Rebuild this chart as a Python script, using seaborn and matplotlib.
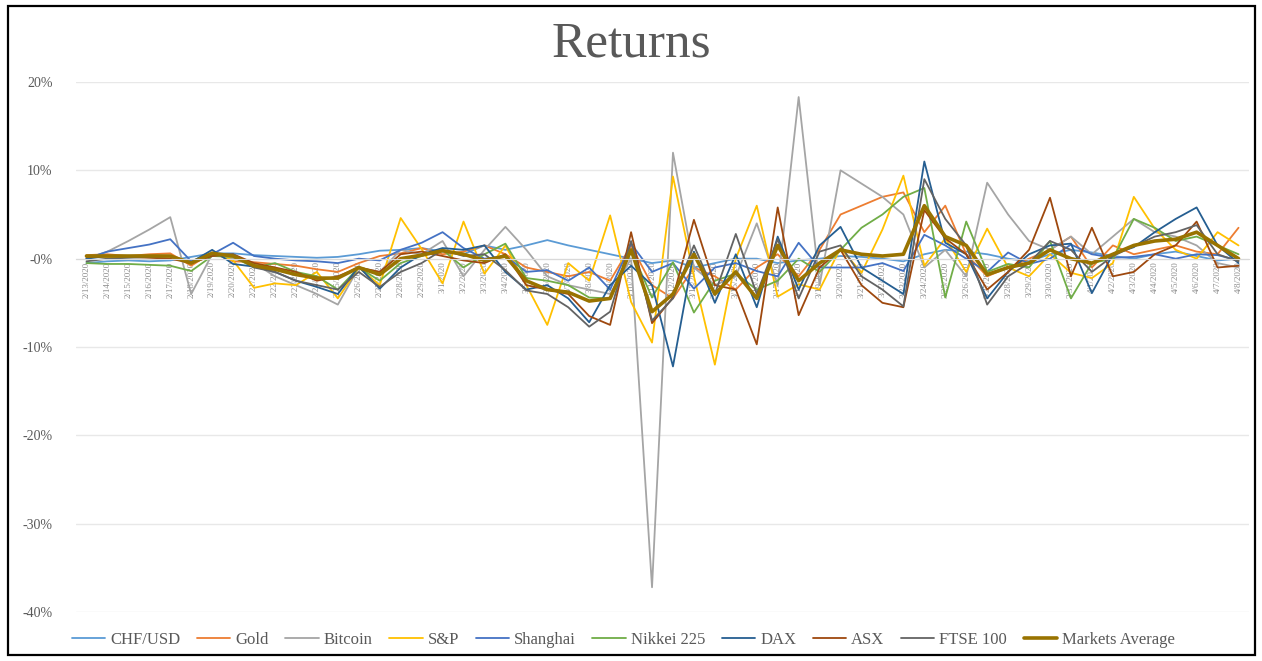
import matplotlib
matplotlib.use("Agg")
import matplotlib.pyplot as plt
from matplotlib.lines import Line2D
from matplotlib.patches import Rectangle
from matplotlib.ticker import PercentFormatter
import numpy as np
import pandas as pd
import seaborn as sns

# daily returns in %
dates = [d.strftime("%-m/%-d/%Y") for d in pd.date_range("2020-02-13", periods=56, freq="D")]

chf_usd = [-0.5, -0.3, -0.2, -0.3, -0.2, 0.2, 0.6, 0.6, 0.4, 0.3, 0.2, 0.1, 0.2, 0.5, 0.9, 1.0,
           1.2, 0.8, 0.5, 1.5, 1.0, 1.5, 2.1, 1.5, 1.0, 0.5, 0.0, -0.5, -0.2, -1.0, -0.5, 0.0,
           0.0, -0.5, -0.2, 0.0, 0.3, 0.2, 0.0, -0.3, 0.5, 1.0, 0.8, 0.5, 0.0, -0.3, 0.5, 1.0,
           0.7, 0.3, 0.0, 0.5, 0.8, 0.3, -0.2, 0.0]
gold = [0.4, 0.5, 0.3, 0.5, 0.6, -0.8, 0.7, -0.3, -0.4, -0.6, -0.8, -1.2, -1.5, -0.5, 0.3, 0.6,
        1.2, 0.5, 0.8, 1.5, 0.5, -1.0, -1.5, -2.0, -1.5, -2.5, 1.5, -3.0, -4.5, -1.0, -2.0, -3.5,
        -1.0, 0.5, -2.0, 1.0, 5.0, 6.0, 7.0, 7.5, 3.0, 6.0, 0.5, -2.0, -1.0, 0.0, 1.0, 2.5,
        -1.0, 1.5, 0.5, 1.0, 1.5, 0.8, 0.5, 3.5]
bitcoin = [0.0, 0.8, 2.0, 3.3, 4.7, -4.0, 0.5, 0.0, -0.5, -2.0, -3.0, -4.0, -5.2, -1.0, -1.5, 1.0,
           0.5, 2.0, -2.0, 1.0, 3.6, 1.0, -2.0, -3.0, -3.5, -4.0, 0.0, -37.2, 12.0, -1.0, -3.0, -2.0,
           4.0, -3.0, 18.3, -3.0, 10.0, 8.5, 7.0, 5.0, -1.0, 1.0, -2.0, 8.6, 5.0, 2.0, 1.0, 2.5,
           0.5, 2.5, 4.5, 3.0, 2.5, 1.5, -0.5, -1.0]
sp = [0.3, 0.2, 0.2, 0.3, 0.2, -0.3, 0.7, -0.2, -3.3, -2.8, -3.0, -1.5, -4.5, -1.0, -3.0, 4.6,
      1.1, -2.8, 4.2, -1.7, 1.5, -3.0, -7.5, -0.5, -2.5, 4.9, -4.9, -9.5, 9.3, -2.0, -12.0, 0.0,
      6.0, -4.3, -2.9, -3.5, 1.2, -1.6, 3.3, 9.4, -0.8, 2.3, -1.5, 3.4, -1.0, -2.0, 0.5, -1.6,
      -2.2, -0.5, 7.0, 3.4, 1.0, 0.0, 3.0, 1.5]
shanghai = [0.0, 0.8, 1.2, 1.6, 2.2, -0.3, 0.5, 1.8, 0.3, 0.0, -0.2, -0.3, -0.5, 0.0, -0.2, 1.0,
            1.8, 3.0, 1.2, 0.0, 0.3, -1.5, -1.3, -2.5, -1.0, -3.5, 1.7, -1.5, -0.5, -3.4, -1.0, -0.5,
            -1.4, -2.0, 1.8, -1.0, -1.0, -1.0, -0.5, -1.4, 2.7, 1.5, 0.0, -1.5, 0.7, -0.6, 0.0, 1.6,
            0.5, 0.1, 0.2, 0.5, 0.0, 0.5, 0.4, -0.2]
nikkei = [-0.5, -0.6, -0.6, -0.7, -0.8, -1.4, 0.3, 0.2, -1.0, -0.5, -1.5, -2.0, -3.5, -1.0, -2.5, -0.5,
          0.3, 1.0, -1.0, 0.5, 1.7, -2.2, -2.5, -3.0, -4.4, -4.5, 1.0, -4.4, -0.4, -6.1, -2.5, -1.7,
          -3.5, -2.5, 0.0, -1.5, 1.0, 3.5, 5.0, 7.0, 8.0, -4.4, 4.2, -1.5, -0.6, -1.0, 2.0, -4.5,
          -0.5, 0.0, 4.5, 3.5, 2.0, 2.5, 1.5, 0.5]
dax = [0.0, 0.3, 0.3, 0.2, 0.3, -0.4, 1.0, -0.6, -0.9, -1.5, -2.5, -3.2, -4.0, -0.9, -3.4, -1.0,
       0.5, 1.2, 1.0, 1.5, -1.5, -3.5, -3.0, -4.5, -7.2, -3.0, -0.8, -3.0, -12.2, 0.8, -5.0, 0.5,
       -5.5, 2.5, -3.5, 1.5, 3.6, -1.0, -2.5, -4.0, 11.0, 1.8, 0.5, -4.5, -1.5, 0.5, 1.5, 1.7,
       -3.9, 0.5, 1.3, 3.0, 4.5, 5.8, 1.5, -0.5]
asx = [0.2, 0.3, 0.2, 0.1, 0.0, -0.5, 0.3, 0.5, -0.5, -1.0, -1.5, -2.5, -2.0, -1.0, -1.5, 0.5,
       0.8, 0.3, -0.2, -0.5, 0.5, -3.0, -3.5, -4.0, -6.5, -7.5, 3.0, -7.3, -4.4, 4.4, -3.0, -3.5,
       -9.7, 5.8, -6.4, -1.0, 1.0, -3.0, -5.0, -5.5, 5.5, 2.3, 0.5, -3.5, -1.5, 1.0, 6.9, -2.0,
       3.5, -2.0, -1.5, 0.5, 1.5, 4.2, -1.0, -0.8]
ftse = [-0.3, 0.0, 0.1, 0.2, 0.3, -0.5, 0.5, 0.5, -1.0, -1.5, -2.5, -3.0, -3.5, -1.5, -3.2, -1.5,
        -0.5, 1.0, 0.3, 0.5, -1.3, -3.6, -4.0, -5.5, -7.7, -6.0, 2.0, -7.0, -4.5, 1.5, -4.0, 2.8,
        -4.0, 2.2, -4.5, 0.8, 1.5, -2.0, -3.5, -5.4, 9.0, 4.5, 1.5, -5.2, -2.0, -0.5, 2.0, 1.0,
        -1.5, 0.3, 1.4, 2.5, 3.0, 3.8, 0.5, -0.3]
markets_avg = [0.3, 0.3, 0.3, 0.3, 0.3, -0.5, 0.6, 0.3, -0.8, -1.2, -1.8, -2.2, -2.2, -1.0, -1.8, 0.0,
               0.4, 0.9, 0.5, -0.2, 0.3, -2.5, -3.5, -3.8, -4.8, -4.5, 1.0, -6.0, -4.0, 0.5, -4.0, -1.5,
               -4.5, 1.5, -2.5, -0.5, 1.0, 0.5, 0.3, 0.5, 6.0, 2.5, 1.5, -1.8, -1.0, -0.5, 1.0, 0.0,
               -0.5, 0.5, 1.5, 2.0, 2.2, 3.0, 1.5, 0.0]

series_names = ["CHF/USD", "Gold", "Bitcoin", "S&P", "Shanghai", "Nikkei 225",
                "DAX", "ASX", "FTSE 100", "Markets Average"]
series_values = [chf_usd, gold, bitcoin, sp, shanghai, nikkei, dax, asx, ftse, markets_avg]

PALETTE = {
    "CHF/USD": "#5B9BD5",
    "Gold": "#ED7D31",
    "Bitcoin": "#A5A5A5",
    "S&P": "#FFC000",
    "Shanghai": "#4472C4",
    "Nikkei 225": "#70AD47",
    "DAX": "#255E91",
    "ASX": "#9E480E",
    "FTSE 100": "#636363",
    "Markets Average": "#997300",
}
WIDTHS = {name: 1.3 for name in series_names}
WIDTHS["Markets Average"] = 2.6

frames = []
for name, vals in zip(series_names, series_values):
    frames.append(pd.DataFrame({"idx": np.arange(len(vals)), "ret": np.array(vals) / 100, "series": name}))
df = pd.concat(frames, ignore_index=True)

sns.set_style("white")
plt.rcParams["font.family"] = ["Liberation Serif", "DejaVu Serif"]
plt.rcParams["axes.unicode_minus"] = False
TEXT = "#595959"

fig = plt.figure(figsize=(12.62, 6.61), dpi=100)
ax = fig.add_axes([76 / 1262, 1 - 612 / 661, 1173 / 1262, 530 / 661])

sns.lineplot(data=df, x="idx", y="ret", hue="series", hue_order=series_names,
             palette=PALETTE, size="series", sizes=WIDTHS, size_order=series_names,
             sort=False, legend=False, ax=ax)

ax.set_xlim(-0.5, len(dates) - 0.5)
ax.set_ylim(-0.40, 0.20)
ax.set_yticks(np.arange(-0.40, 0.201, 0.10))
ax.yaxis.set_major_formatter(PercentFormatter(1.0, decimals=0))
ax.grid(axis="y", color="#E8E8E8", lw=1.0)
ax.set_axisbelow(True)
for s in ["top", "right", "left"]:
    ax.spines[s].set_visible(False)
ax.spines["bottom"].set_position(("data", 0))
ax.spines["bottom"].set_color("#D9D9D9")

ax.set_xticks(np.arange(len(dates)))
ax.set_xticklabels(dates, rotation=90, fontsize=6.5, color="#8C8C8C")
ax.tick_params(axis="x", length=0, pad=2)
ax.tick_params(axis="y", length=0, pad=17, labelsize=10, labelcolor=TEXT)
ax.set_xlabel("")
ax.set_ylabel("")

fig.suptitle("Returns", y=0.968, fontsize=37, color=TEXT)

handles = [Line2D([], [], color=PALETTE[n], lw=WIDTHS[n]) for n in series_names]
fig.legend(handles, series_names, loc="center", bbox_to_anchor=(0.494, 1 - 640 / 661),
           ncol=len(series_names), frameon=False, fontsize=12, labelcolor=TEXT,
           handlelength=2.0, handletextpad=0.3, columnspacing=1.0)

fig.patches.append(Rectangle((8 / 1262, 6 / 661), 1247 / 1262, 649 / 661, transform=fig.transFigure,
                             fill=False, edgecolor="black", lw=1.6))

fig.savefig("out.png", dpi=100)
